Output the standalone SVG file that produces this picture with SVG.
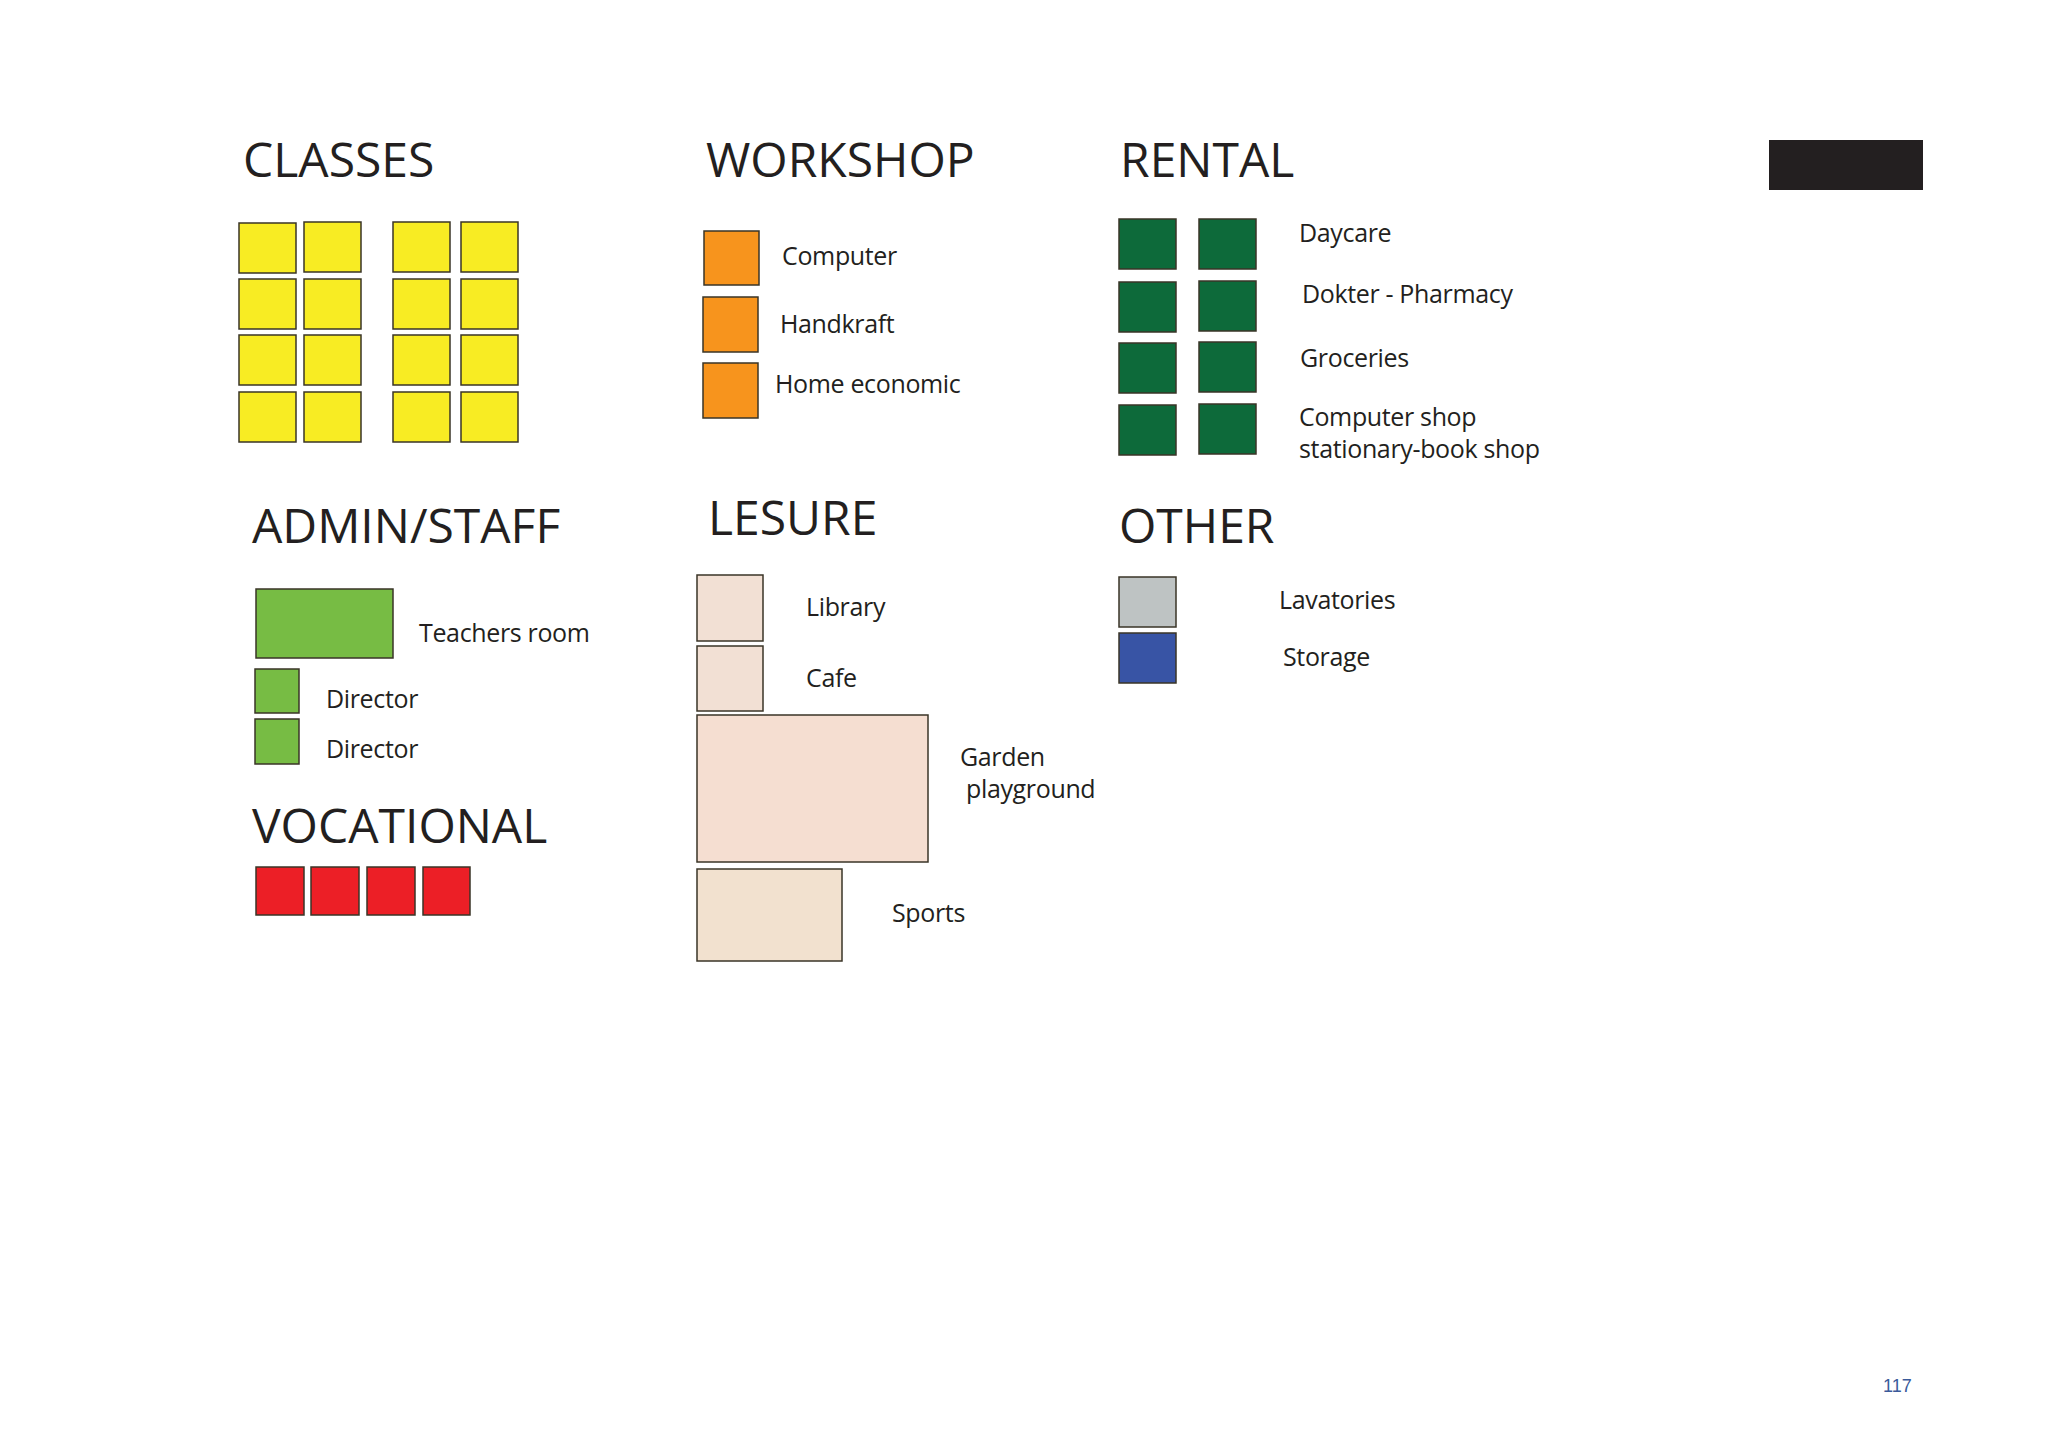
<svg xmlns="http://www.w3.org/2000/svg" width="2048" height="1448" viewBox="0 0 2048 1448">
<style>
.h{font-family:"Open Sans","Noto Sans",sans-serif;font-size:48px;fill:#231f20}
.t{font-family:"Open Sans","Noto Sans",sans-serif;font-size:25px;letter-spacing:-0.35px;fill:#231f20}
.pg{font-family:"Liberation Sans",Arial,sans-serif;font-size:18px;fill:#3a5a9a}
rect.b{stroke:#3a3527;stroke-width:1.5}
.y{fill:#f8ec23}
.o{fill:#f7941d}
.dg{fill:#0d6a3a}
.lg{fill:#77bc44}
.r{fill:#ec1f26}
.gr{fill:#bec3c3}
.bl{fill:#3854a5}
.l1{fill:#f2e0d4}
.l2{fill:#f5ded1}
.l3{fill:#f2e1cf}
</style>
<rect x="0" y="0" width="2048" height="1448" fill="#ffffff"/>

<g id="classes">
<text class="h" x="243" y="177">CLASSES</text>
<rect class="b y" x="239" y="223" width="57" height="50"/>
<rect class="b y" x="304" y="222" width="57" height="50"/>
<rect class="b y" x="393" y="222" width="57" height="50"/>
<rect class="b y" x="461" y="222" width="57" height="50"/>
<rect class="b y" x="239" y="279" width="57" height="50"/>
<rect class="b y" x="304" y="279" width="57" height="50"/>
<rect class="b y" x="393" y="279" width="57" height="50"/>
<rect class="b y" x="461" y="279" width="57" height="50"/>
<rect class="b y" x="239" y="335" width="57" height="50"/>
<rect class="b y" x="304" y="335" width="57" height="50"/>
<rect class="b y" x="393" y="335" width="57" height="50"/>
<rect class="b y" x="461" y="335" width="57" height="50"/>
<rect class="b y" x="239" y="392" width="57" height="50"/>
<rect class="b y" x="304" y="392" width="57" height="50"/>
<rect class="b y" x="393" y="392" width="57" height="50"/>
<rect class="b y" x="461" y="392" width="57" height="50"/>
</g>

<g id="workshop">
<text class="h" x="706" y="177">WORKSHOP</text>
<rect class="b o" x="704" y="231" width="55" height="54"/>
<rect class="b o" x="703" y="297" width="55" height="55"/>
<rect class="b o" x="703" y="363" width="55" height="55"/>
<text class="t" x="782" y="265">Computer</text>
<text class="t" x="780" y="333">Handkraft</text>
<text class="t" x="775" y="393">Home economic</text>
</g>

<g id="rental">
<text class="h" x="1120" y="177">RENTAL</text>
<rect class="b dg" x="1119" y="219" width="57" height="50"/>
<rect class="b dg" x="1199" y="219" width="57" height="50"/>
<rect class="b dg" x="1119" y="282" width="57" height="50"/>
<rect class="b dg" x="1199" y="281" width="57" height="50"/>
<rect class="b dg" x="1119" y="343" width="57" height="50"/>
<rect class="b dg" x="1199" y="342" width="57" height="50"/>
<rect class="b dg" x="1119" y="405" width="57" height="50"/>
<rect class="b dg" x="1199" y="404" width="57" height="50"/>
<text class="t" x="1299" y="242">Daycare</text>
<text class="t" x="1302" y="303">Dokter - Pharmacy</text>
<text class="t" x="1300" y="367">Groceries</text>
<text class="t" x="1299" y="426">Computer shop</text>
<text class="t" x="1299" y="458">stationary-book shop</text>
</g>

<g id="admin">
<text class="h" x="252" y="543">ADMIN/STAFF</text>
<rect class="b lg" x="256" y="589" width="137" height="69"/>
<rect class="b lg" x="255" y="669" width="44" height="44"/>
<rect class="b lg" x="255" y="719" width="44" height="45"/>
<text class="t" x="419" y="642">Teachers room</text>
<text class="t" x="326" y="708">Director</text>
<text class="t" x="326" y="758">Director</text>
</g>

<g id="vocational">
<text class="h" x="252" y="843">VOCATIONAL</text>
<rect class="b r" x="256" y="867" width="48" height="48"/>
<rect class="b r" x="311" y="867" width="48" height="48"/>
<rect class="b r" x="367" y="867" width="48" height="48"/>
<rect class="b r" x="423" y="867" width="47" height="48"/>
</g>

<g id="lesure">
<text class="h" x="708" y="535">LESURE</text>
<rect class="b l1" x="697" y="575" width="66" height="66"/>
<rect class="b l1" x="697" y="646" width="66" height="65"/>
<rect class="b l2" x="697" y="715" width="231" height="147"/>
<rect class="b l3" x="697" y="869" width="145" height="92"/>
<text class="t" x="806" y="616">Library</text>
<text class="t" x="806" y="687">Cafe</text>
<text class="t" x="960" y="766">Garden</text>
<text class="t" x="966" y="798">playground</text>
<text class="t" x="892" y="922">Sports</text>
</g>

<g id="other">
<text class="h" x="1119" y="543">OTHER</text>
<rect class="b gr" x="1119" y="577" width="57" height="50"/>
<rect class="b bl" x="1119" y="633" width="57" height="50"/>
<text class="t" x="1279" y="609">Lavatories</text>
<text class="t" x="1283" y="666">Storage</text>
</g>

<g id="black-box">
<rect x="1769" y="140" width="154" height="50" fill="#231f20"/>
</g>

<g id="connectors"></g>

<text class="pg" x="1883" y="1392">117</text>
</svg>
